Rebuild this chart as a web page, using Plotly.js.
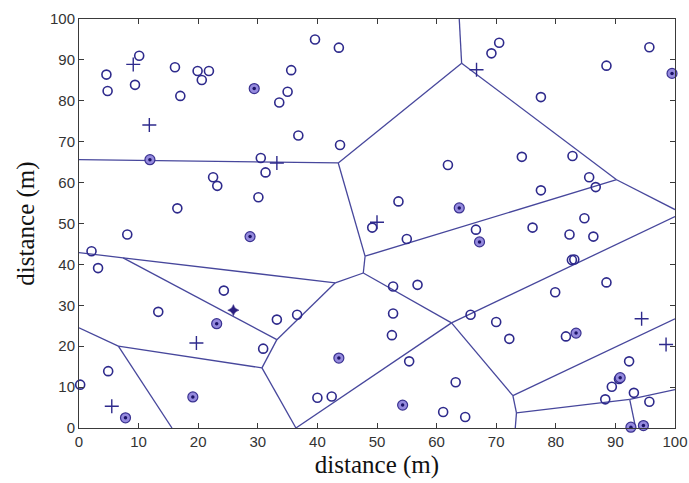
<!DOCTYPE html>
<html>
<head>
<meta charset="utf-8">
<script src="https://cdn.plot.ly/plotly-3.0.1.min.js"></script>
<style>html,body{margin:0;padding:0;background:#fff;}#chart{width:689px;height:483px;}</style>
</head>
<body>
<div id="chart"></div>
<script>
// Sensor nodes (open circles)
const nodeX = [4.6,4.8,10.1,9.4,16.1,17.0,19.9,21.8,20.6,33.6,39.6,43.6,35.6,35.0,36.8,43.8,70.5,69.2,95.7,88.5,77.5,74.3,82.8,
  30.5,31.3,22.5,23.2,30.1,16.5,8.1,2.1,3.2,24.3,
  61.9,53.6,49.2,55.0,66.6,52.7,56.8,
  85.6,86.7,77.5,84.8,76.1,82.3,86.3,82.7,83.1,88.5,79.9,
  13.3,33.2,36.6,30.9,4.9,0.2,
  40.0,42.4,52.7,52.5,55.4,65.7,63.2,61.1,64.8,
  70.0,72.2,81.7,92.3,89.4,93.1,88.3,95.7,90.6];
const nodeY = [86.4,82.4,91.0,83.9,88.2,81.2,87.3,87.3,85.1,79.6,95.0,93.0,87.5,82.2,71.5,69.2,94.2,91.6,93.1,88.6,80.9,66.3,66.5,
  66.0,62.5,61.3,59.2,56.4,53.7,47.3,43.2,39.1,33.6,
  64.3,55.4,49.0,46.2,48.5,34.6,35.0,
  61.3,58.9,58.1,51.3,49.0,47.3,46.8,41.1,41.2,35.6,33.2,
  28.4,26.5,27.7,19.4,13.9,10.6,
  7.4,7.7,28.0,22.7,16.3,27.7,11.2,3.9,2.7,
  25.9,21.8,22.4,16.3,10.1,8.6,7.0,6.4,12.0];

// Cluster heads (filled circles)
const headX = [29.4,99.5,11.9,28.7,63.8,67.2,23.1,7.8,19.1,43.6,54.3,83.4,90.8,92.6,94.7];
const headY = [83.0,86.7,65.6,46.8,53.8,45.5,25.5,2.5,7.6,17.1,5.6,23.2,12.3,0.2,0.6];

// Plus markers
const plusX = [9.1,11.8,66.7,33.2,50.0,19.7,5.5,94.4,98.5];
const plusY = [88.9,74.1,87.6,64.8,50.3,20.8,5.3,26.7,20.4];

// Star marker
const starX = [25.9];
const starY = [28.8];

// Voronoi vertices (data units) and edges (index pairs)
const vorX = [43.5,64.2,63.8,90.2,48.0,47.7,43.0,33.2,30.7,6.6,7.4,36.4,62.5,72.8,73.4,92.4,0,0,0,15.6,73.2,93.4,100,100,100,100];
const vorY = [64.8,89.2,100,60.7,42.0,37.9,35.5,21.6,14.7,20.0,41.6,0,25.7,7.9,3.7,7.0,65.6,42.9,24.5,0,0,0,9.4,26.7,51.7,53.4];
const vorEdges = [[16,0],[0,1],[1,2],[0,4],[1,3],[3,25],[3,4],[4,5],[5,6],[5,12],[6,10],[10,17],[10,7],[6,7],[7,8],[8,9],[9,18],[9,19],[8,11],[11,12],[12,24],[12,13],[13,23],[13,14],[14,20],[14,15],[15,21],[15,22]];

const tickVals = [0,10,20,30,40,50,60,70,80,90,100];

const ex = [], ey = [];
vorEdges.forEach(e => { ex.push(vorX[e[0]], vorX[e[1]], null); ey.push(vorY[e[0]], vorY[e[1]], null); });

const navy = '#2e2a8c';
const traces = [
  {x: ex, y: ey, mode: 'lines', type: 'scatter', line: {color: '#47479c', width: 1.3}, hoverinfo: 'skip', connectgaps: false},
  {x: nodeX, y: nodeY, mode: 'markers', type: 'scatter', cliponaxis: false,
   marker: {symbol: 'circle-open', size: 9, color: navy, line: {color: navy, width: 1.6}}},
  {x: headX, y: headY, mode: 'markers', type: 'scatter', cliponaxis: false,
   marker: {symbol: 'circle', size: 10, color: '#958ade', line: {color: '#3a3290', width: 1.2}}},
  {x: headX, y: headY, mode: 'markers', type: 'scatter', cliponaxis: false,
   marker: {symbol: 'circle', size: 3.5, color: '#1c1468', line: {width: 0}}},
  {x: plusX, y: plusY, mode: 'markers', type: 'scatter', cliponaxis: false,
   marker: {symbol: 'cross-thin', size: 10, color: navy, line: {color: navy, width: 1.4}}},
  {x: starX, y: starY, mode: 'markers', type: 'scatter', cliponaxis: false,
   marker: {symbol: 'star-diamond', size: 8, color: '#2a1f80', line: {color: '#2a1f80', width: 0.5}}}
];

const axisCommon = {
  range: [0, 100], tickvals: tickVals, ticktext: tickVals.map(String),
  showgrid: false, zeroline: false, showline: true, mirror: 'ticks',
  linecolor: '#3a3a3a', linewidth: 1, ticks: 'inside', ticklen: 5, tickcolor: '#3a3a3a',
  tickfont: {family: 'Liberation Sans, Arial, sans-serif', size: 15, color: '#333'}
};

const layout = {
  width: 689, height: 483,
  margin: {l: 79, r: 14, t: 19, b: 55},
  paper_bgcolor: '#fff', plot_bgcolor: '#fff',
  showlegend: false,
  xaxis: Object.assign({}, axisCommon, {title: {text: 'distance (m)', standoff: 6, font: {family: 'Liberation Serif, Times New Roman, serif', size: 25, color: '#111'}}}),
  yaxis: Object.assign({}, axisCommon, {title: {text: 'distance (m)', standoff: 8, font: {family: 'Liberation Serif, Times New Roman, serif', size: 25, color: '#111'}}})
};

Plotly.newPlot('chart', traces, layout, {displayModeBar: false, staticPlot: true});
</script>
</body>
</html>
